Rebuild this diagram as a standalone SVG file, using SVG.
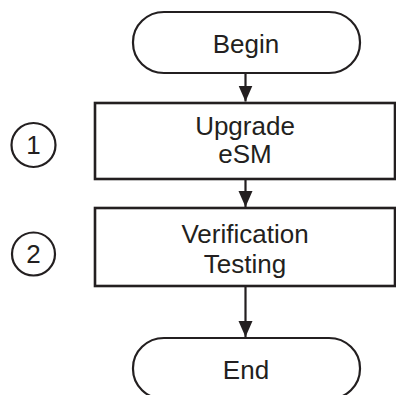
<svg xmlns="http://www.w3.org/2000/svg" width="396" height="395" viewBox="0 0 396 395">
<style>
.term{fill:#fff;stroke:#231f20;stroke-width:2.2}
.box{fill:#fff;stroke:#231f20;stroke-width:2.6}
.circ{fill:none;stroke:#231f20;stroke-width:2.2}
.t{font-family:"Liberation Sans",Arial,sans-serif;font-size:26px;fill:#231f20;text-anchor:middle}
.c{stroke:#231f20;stroke-width:2.2;fill:none}
</style>
<defs>
<marker id="ah" markerUnits="userSpaceOnUse" markerWidth="17" markerHeight="18" refX="16" refY="8" orient="auto" viewBox="0 0 17 16">
<path d="M0,1 L16,8 L0,15 Z" fill="#231f20"/>
</marker>
</defs>
<rect width="396" height="395" fill="#fff"/>
<g id="connectors">
<line class="c" x1="245.5" y1="73" x2="245.5" y2="101.5" marker-end="url(#ah)"/>
<line class="c" x1="245.5" y1="179" x2="245.5" y2="207" marker-end="url(#ah)"/>
<line class="c" x1="245.5" y1="287" x2="245.5" y2="337" marker-end="url(#ah)"/>
</g>
<g id="begin">
<rect class="term" x="133" y="12" width="227" height="61" rx="31" ry="30"/>
<text class="t" x="246" y="53">Begin</text>
</g>
<g id="step1">
<rect class="box" x="95" y="103" width="300" height="76"/>
<text class="t" x="245" y="135">Upgrade</text>
<text class="t" x="245" y="163">eSM</text>
</g>
<g id="marker1">
<circle class="circ" cx="33.5" cy="145" r="22"/>
<text class="t" x="33.5" y="154">1</text>
</g>
<g id="step2">
<rect class="box" x="95" y="208" width="300" height="78"/>
<text class="t" x="245" y="243">Verification</text>
<text class="t" x="245" y="273">Testing</text>
</g>
<g id="marker2">
<circle class="circ" cx="33.5" cy="254" r="21.5"/>
<text class="t" x="33.5" y="263">2</text>
</g>
<g id="end">
<rect class="term" x="133" y="338" width="227" height="61" rx="31" ry="30"/>
<text class="t" x="246" y="379">End</text>
</g>
</svg>
